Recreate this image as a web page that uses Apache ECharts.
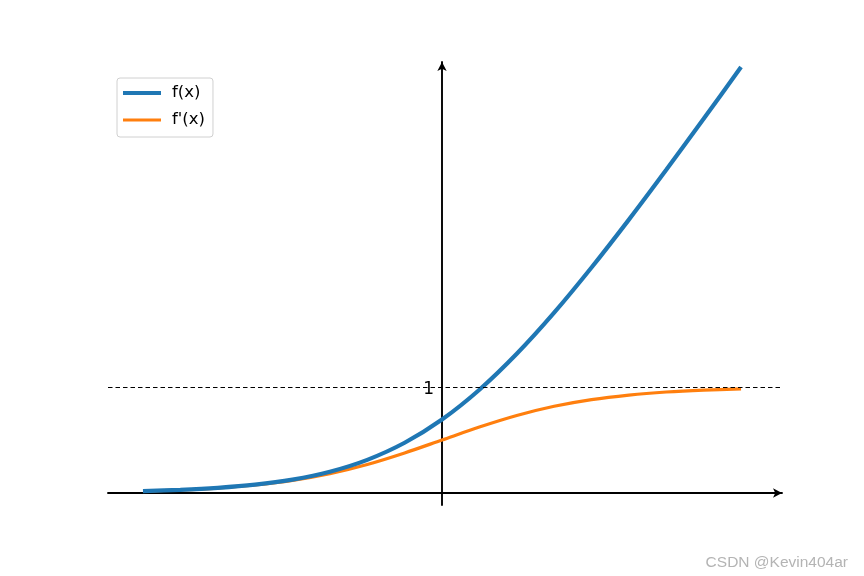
<!DOCTYPE html>
<html>
<head>
<meta charset="utf-8">
<script src="https://cdn.jsdelivr.net/npm/echarts@6/dist/echarts.min.js"></script>
<style>html,body{margin:0;padding:0;background:#fff}#c{width:864px;height:576px}</style>
</head>
<body>
<div id="c"></div>
<script>
// x values sampled along the curves
const xs = [-4, -3.5, -3, -2.5, -2, -1.5, -1, -0.5, 0, 0.5, 1, 1.5, 2, 2.5, 3, 3.5, 4];
// f(x)
const fVals = [0.018, 0.030, 0.049, 0.079, 0.127, 0.201, 0.313, 0.474, 0.693, 0.974, 1.313, 1.701, 2.127, 2.579, 3.049, 3.530, 4.018];
// f'(x)
const dfVals = [0.018, 0.029, 0.047, 0.076, 0.119, 0.182, 0.269, 0.378, 0.500, 0.622, 0.731, 0.818, 0.881, 0.924, 0.953, 0.971, 0.982];
const seriesNames = ["f(x)", "f'(x)"];
const yTickLabels = [1];
const refLine = 1;

const xMin = -4.468, xMax = 4.548;
const gridLeft = 108, gridRight = 82;
const plotW = 864 - gridLeft - gridRight;
const yAxisOffset = -plotW * (0 - xMin) / (xMax - xMin);

const chart = echarts.init(document.getElementById('c'), null, {renderer: 'canvas'});
const font = 'DejaVu Sans';
chart.setOption({
  animation: false,
  backgroundColor: '#ffffff',
  grid: {left: gridLeft, right: gridRight, top: 62, bottom: 71, containLabel: false},
  xAxis: {
    type: 'value', min: xMin, max: xMax,
    axisLine: {show: true, onZero: true, symbol: ['none', 'arrow'], symbolSize: [7, 9],
      lineStyle: {color: '#000', width: 1.9}},
    axisTick: {show: false}, axisLabel: {show: false}, splitLine: {show: false}
  },
  yAxis: {
    type: 'value', min: -0.113, max: 4.066, position: 'left', offset: yAxisOffset,
    axisLine: {show: true, onZero: false, symbol: ['none', 'arrow'], symbolSize: [7, 9],
      lineStyle: {color: '#000', width: 1.9}},
    axisTick: {show: false},
    axisLabel: {show: true, customValues: yTickLabels, margin: 8, color: '#000', fontFamily: font, fontSize: 17,
      verticalAlign: 'top', lineHeight: 6},
    splitLine: {show: false}
  },
  legend: {
    left: 117, top: 78, orient: 'vertical',
    padding: [5, 8, 7, 6], itemGap: 7, itemWidth: 38, itemHeight: 14,
    backgroundColor: 'rgba(255,255,255,0.8)', borderColor: '#d0d0d0', borderWidth: 1, borderRadius: 3,
    textStyle: {fontFamily: font, fontSize: 16.5, color: '#000', lineHeight: 20, padding: [0, 0, 0, 6]},
    data: [
      {name: seriesNames[0], icon: 'path://M0,0L38,0L38,4.2L0,4.2Z'},
      {name: seriesNames[1], icon: 'path://M0,0L38,0L38,3.2L0,3.2Z'}
    ]
  },
  series: [
    {
      name: seriesNames[0], type: 'line', showSymbol: false, symbol: 'none', smooth: 0.3,
      data: xs.map((x, i) => [x, fVals[i]]),
      lineStyle: {color: '#1f77b4', width: 4.2}, itemStyle: {color: '#1f77b4'},
      clip: true, z: 3,
      markLine: {
        silent: true, symbol: ['none', 'none'], label: {show: false},
        lineStyle: {color: '#000', type: [4.5, 3], width: 1.2},
        data: [{yAxis: refLine}]
      }
    },
    {
      name: seriesNames[1], type: 'line', showSymbol: false, symbol: 'none', smooth: 0.3,
      data: xs.map((x, i) => [x, dfVals[i]]),
      lineStyle: {color: '#ff7f0e', width: 3.2}, itemStyle: {color: '#ff7f0e'},
      clip: true, z: 2
    }
  ],
  graphic: [{
    type: 'text', right: 16, top: 555,
    style: {text: 'CSDN @Kevin404ar', fill: '#b4b4b4', font: '15.5px "Liberation Sans"'}
  }]
});
</script>
</body>
</html>
